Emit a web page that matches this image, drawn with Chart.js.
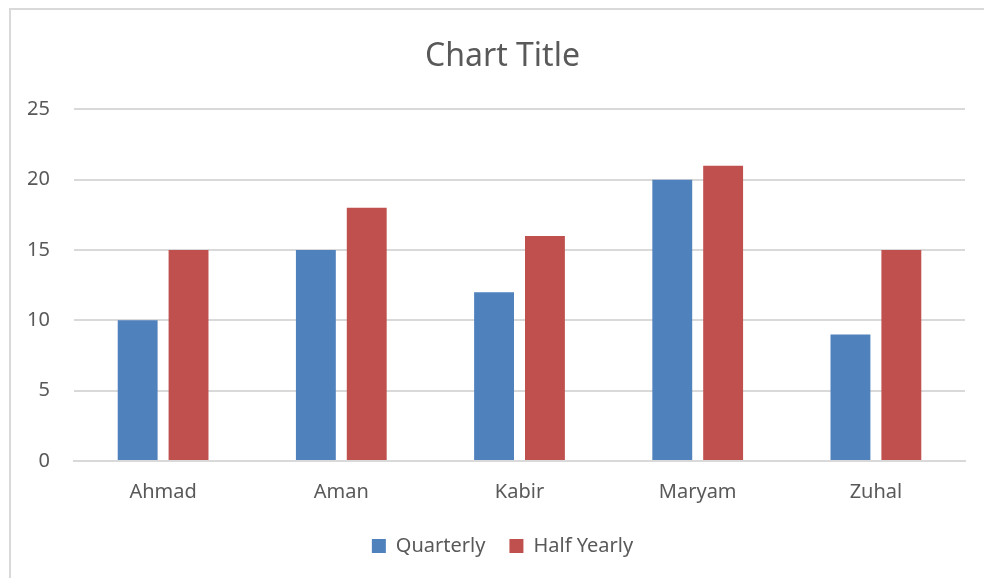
<!DOCTYPE html>
<html>
<head>
<meta charset="utf-8">
<script src="https://cdn.jsdelivr.net/npm/chart.js@4"></script>
<style>
  body { margin: 0; background: #fff; overflow: hidden; }
  .frame {
    position: absolute; left: 9px; top: 8px;
    width: 1000px; height: 600px;
    border: 2px solid #d9d9d9;
  }
  .wrap { position: absolute; left: 0; top: 0; width: 984px; height: 578px; }
</style>
</head>
<body>
<div class="frame"></div>
<div class="wrap"><canvas id="chart"></canvas></div>
<script>
  const names = ["Ahmad", "Aman", "Kabir", "Maryam", "Zuhal"];
  const quarterly = [10, 15, 12, 20, 9];
  const halfYearly = [15, 18, 16, 21, 15];
  const yTicks = [0, 5, 10, 15, 20, 25];

  const textGray = "#595959";
  const gridGray = "#d9d9d9";
  const fontFam = "'Noto Sans', 'Open Sans', sans-serif";

  // title + legend are centred on the whole frame (which runs past the window), not the canvas
  const nudgeRight = {
    id: "nudgeRight",
    afterLayout(chart) {
      [chart.titleBlock, chart.legend].forEach((box) => {
        if (!box) return;
        box.left += 20;
        box.right += 20;
      });
    },
  };

  const ctx = document.getElementById("chart");
  new Chart(ctx, {
    type: "bar",
    data: {
      labels: names,
      datasets: [
        {
          label: "Quarterly",
          data: quarterly,
          backgroundColor: "#4f81bd",
          categoryPercentage: 0.571,
          barPercentage: 0.784,
        },
        {
          label: "Half Yearly",
          data: halfYearly,
          backgroundColor: "#c0504d",
          categoryPercentage: 0.571,
          barPercentage: 0.784,
        },
      ],
    },
    options: {
      responsive: true,
      maintainAspectRatio: false,
      animation: false,
      layout: { padding: { left: 0, right: 19, top: 0, bottom: 12 } },
      plugins: {
        title: {
          display: true,
          text: "Chart Title",
          color: textGray,
          font: { family: fontFam, size: 32, weight: "normal" },
          padding: { top: 38, bottom: 33 },
        },
        legend: {
          position: "bottom",
          labels: {
            color: textGray,
            boxWidth: 14,
            boxHeight: 14,
            padding: 24,
            font: { family: fontFam, size: 20 },
          },
        },
        tooltip: { enabled: false },
      },
      scales: {
        x: {
          afterFit: (axis) => {
            axis.height -= 11; // labels hang a bit below, keeps legend spacing
          },
          grid: { display: false, drawTicks: false },
          border: { display: true, color: gridGray, width: 2 },
          ticks: {
            color: textGray,
            padding: 19,
            font: { family: fontFam, size: 20 },
          },
        },
        y: {
          min: 0,
          max: 25,
          afterBuildTicks: (axis) => {
            axis.ticks = yTicks.map((v) => ({ value: v }));
          },
          afterFit: (axis) => {
            axis.width = 74;
          },
          grid: { color: gridGray, lineWidth: 2, drawTicks: false },
          border: { display: false },
          ticks: {
            color: textGray,
            padding: 24,
            font: { family: fontFam, size: 20 },
          },
        },
      },
    },
    plugins: [nudgeRight],
  });
</script>
</body>
</html>
